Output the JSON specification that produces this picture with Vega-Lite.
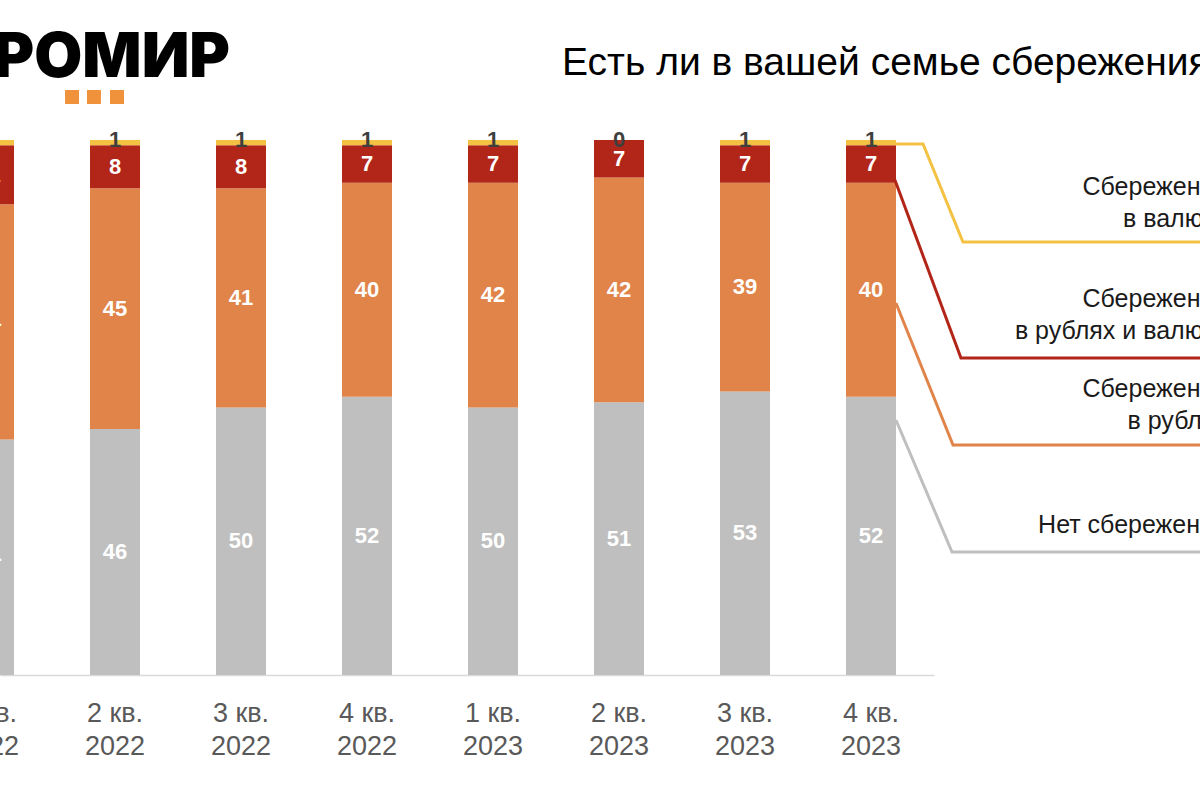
{
  "$schema": "https://vega.github.io/schema/vega-lite/v6.json",
  "width": 934,
  "height": 535,
  "autosize": {"type": "none"},
  "padding": {"left": 0, "top": 140, "right": 266, "bottom": 125},
  "background": "#ffffff",
  "config": {"view": {"stroke": null}, "font": "Liberation Sans", "scale": {"continuousPadding": 0}},
  "datasets": {
    "savings": [
      {"year": 2022, "quarter": 1, "type": "Нет сбережений", "value": 44},
      {"year": 2022, "quarter": 1, "type": "Сбережения в рублях", "value": 44},
      {"year": 2022, "quarter": 1, "type": "Сбережения в рублях и валюте", "value": 11},
      {"year": 2022, "quarter": 1, "type": "Сбережения в валюте", "value": 1},
      {"year": 2022, "quarter": 2, "type": "Нет сбережений", "value": 46},
      {"year": 2022, "quarter": 2, "type": "Сбережения в рублях", "value": 45},
      {"year": 2022, "quarter": 2, "type": "Сбережения в рублях и валюте", "value": 8},
      {"year": 2022, "quarter": 2, "type": "Сбережения в валюте", "value": 1},
      {"year": 2022, "quarter": 3, "type": "Нет сбережений", "value": 50},
      {"year": 2022, "quarter": 3, "type": "Сбережения в рублях", "value": 41},
      {"year": 2022, "quarter": 3, "type": "Сбережения в рублях и валюте", "value": 8},
      {"year": 2022, "quarter": 3, "type": "Сбережения в валюте", "value": 1},
      {"year": 2022, "quarter": 4, "type": "Нет сбережений", "value": 52},
      {"year": 2022, "quarter": 4, "type": "Сбережения в рублях", "value": 40},
      {"year": 2022, "quarter": 4, "type": "Сбережения в рублях и валюте", "value": 7},
      {"year": 2022, "quarter": 4, "type": "Сбережения в валюте", "value": 1},
      {"year": 2023, "quarter": 1, "type": "Нет сбережений", "value": 50},
      {"year": 2023, "quarter": 1, "type": "Сбережения в рублях", "value": 42},
      {"year": 2023, "quarter": 1, "type": "Сбережения в рублях и валюте", "value": 7},
      {"year": 2023, "quarter": 1, "type": "Сбережения в валюте", "value": 1},
      {"year": 2023, "quarter": 2, "type": "Нет сбережений", "value": 51},
      {"year": 2023, "quarter": 2, "type": "Сбережения в рублях", "value": 42},
      {"year": 2023, "quarter": 2, "type": "Сбережения в рублях и валюте", "value": 7},
      {"year": 2023, "quarter": 2, "type": "Сбережения в валюте", "value": 0},
      {"year": 2023, "quarter": 3, "type": "Нет сбережений", "value": 53},
      {"year": 2023, "quarter": 3, "type": "Сбережения в рублях", "value": 39},
      {"year": 2023, "quarter": 3, "type": "Сбережения в рублях и валюте", "value": 7},
      {"year": 2023, "quarter": 3, "type": "Сбережения в валюте", "value": 1},
      {"year": 2023, "quarter": 4, "type": "Нет сбережений", "value": 52},
      {"year": 2023, "quarter": 4, "type": "Сбережения в рублях", "value": 40},
      {"year": 2023, "quarter": 4, "type": "Сбережения в рублях и валюте", "value": 7},
      {"year": 2023, "quarter": 4, "type": "Сбережения в валюте", "value": 1}
    ],
    "callouts": [
      {"type": "Сбережения в валюте", "step": 1, "t": 8.198, "pct": 99.25},
      {"type": "Сбережения в валюте", "step": 2, "t": 8.413, "pct": 99.25},
      {"type": "Сбережения в валюте", "step": 3, "t": 8.73, "pct": 80.93},
      {"type": "Сбережения в валюте", "step": 4, "t": 10.9, "pct": 80.93},
      {"type": "Сбережения в рублях и валюте", "step": 1, "t": 8.19, "pct": 92.52},
      {"type": "Сбережения в рублях и валюте", "step": 2, "t": 8.714, "pct": 59.25},
      {"type": "Сбережения в рублях и валюте", "step": 3, "t": 10.9, "pct": 59.25},
      {"type": "Сбережения в рублях", "step": 1, "t": 8.198, "pct": 69.53},
      {"type": "Сбережения в рублях", "step": 2, "t": 8.651, "pct": 42.99},
      {"type": "Сбережения в рублях", "step": 3, "t": 10.9, "pct": 42.99},
      {"type": "Нет сбережений", "step": 1, "t": 8.198, "pct": 47.66},
      {"type": "Нет сбережений", "step": 2, "t": 8.643, "pct": 22.99},
      {"type": "Нет сбережений", "step": 3, "t": 10.9, "pct": 22.99}
    ],
    "calloutLabels": [
      {"label": ["Сбережения", "в валюте"], "t": 10.833, "pct": 89.72},
      {"label": ["Сбережения", "в рублях и валюте"], "t": 10.833, "pct": 68.79},
      {"label": ["Сбережения", "в рублях"], "t": 10.833, "pct": 51.96},
      {"label": ["Нет сбережений"], "t": 10.833, "pct": 26.54}
    ],
    "headings": [{"text": "Есть ли в вашей семье сбережения?", "t": 5.548, "pct": 112.15}],
    "logo": [{"brand": "РОМИР", "t": 2.913, "pct": 111.78}],
    "logoDots": [
      {"t": 1.659, "pct": 108.04},
      {"t": 1.833, "pct": 108.04},
      {"t": 2.016, "pct": 108.04}
    ]
  },
  "layer": [
    {
      "data": {"name": "savings"},
      "transform": [
        {"calculate": "(datum.year - 2022) * 4 + datum.quarter", "as": "t"},
        {"calculate": "indexof(['Нет сбережений', 'Сбережения в рублях', 'Сбережения в рублях и валюте', 'Сбережения в валюте'], datum.type)", "as": "rank"}
      ],
      "mark": {"type": "bar", "width": 50},
      "encoding": {
        "x": {
          "field": "t",
          "type": "quantitative",
          "scale": {"domain": [1.0873, 8.5], "nice": false, "zero": false, "padding": 0},
          "axis": {"title": null, "labels": false, "ticks": false, "grid": false, "domainColor": "#d9d9d9", "domainWidth": 1.5}
        },
        "y": {
          "field": "value",
          "type": "quantitative",
          "stack": "zero",
          "scale": {"domain": [0, 100], "nice": false, "zero": false, "padding": 0},
          "axis": null
        },
        "color": {
          "field": "type",
          "type": "nominal",
          "scale": {
            "domain": ["Нет сбережений", "Сбережения в рублях", "Сбережения в рублях и валюте", "Сбережения в валюте"],
            "range": ["#bfbfbf", "#e0844a", "#b22519", "#f4c242"]
          },
          "legend": null
        },
        "order": {"field": "rank"}
      }
    },
    {
      "data": {"name": "savings"},
      "transform": [
        {"calculate": "(datum.year - 2022) * 4 + datum.quarter", "as": "t"},
        {"calculate": "indexof(['Нет сбережений', 'Сбережения в рублях', 'Сбережения в рублях и валюте', 'Сбережения в валюте'], datum.type)", "as": "rank"},
        {"stack": "value", "groupby": ["t"], "sort": [{"field": "rank", "order": "ascending"}], "as": ["v0", "v1"]},
        {"calculate": "datum.type === 'Сбережения в валюте' ? datum.v1 : (datum.v0 + datum.v1) / 2", "as": "ypos"}
      ],
      "mark": {"type": "text", "fontSize": 22, "fontWeight": "bold", "baseline": "middle", "align": "center", "font": "Liberation Sans"},
      "encoding": {
        "x": {"field": "t", "type": "quantitative", "scale": {"domain": [1.0873, 8.5], "nice": false, "zero": false, "padding": 0}},
        "y": {"field": "ypos", "type": "quantitative", "scale": {"domain": [0, 100], "nice": false, "zero": false, "padding": 0}},
        "text": {"field": "value", "type": "quantitative"},
        "color": {
          "condition": {"test": "datum.type === 'Сбережения в валюте'", "value": "#3f3f3f"},
          "value": "#ffffff"
        }
      }
    },
    {
      "data": {"name": "savings"},
      "transform": [
        {"filter": "datum.type === 'Нет сбережений'"},
        {"calculate": "(datum.year - 2022) * 4 + datum.quarter", "as": "t"},
        {"calculate": "[datum.quarter + ' кв.', '' + datum.year]", "as": "period"}
      ],
      "mark": {"type": "text", "fontSize": 27, "baseline": "alphabetic", "align": "center", "dy": 47, "lineHeight": 33, "color": "#595959", "font": "Liberation Sans"},
      "encoding": {
        "x": {"field": "t", "type": "quantitative", "scale": {"domain": [1.0873, 8.5], "nice": false, "zero": false, "padding": 0}},
        "y": {"datum": 0, "type": "quantitative", "scale": {"domain": [0, 100], "nice": false, "zero": false, "padding": 0}},
        "text": {"field": "period"}
      }
    },
    {
      "data": {"name": "callouts"},
      "mark": {"type": "line", "strokeWidth": 3, "strokeJoin": "miter"},
      "encoding": {
        "x": {"field": "t", "type": "quantitative", "scale": {"domain": [1.0873, 8.5], "nice": false, "zero": false, "padding": 0}},
        "y": {"field": "pct", "type": "quantitative", "scale": {"domain": [0, 100], "nice": false, "zero": false, "padding": 0}},
        "color": {"field": "type", "type": "nominal", "legend": null},
        "order": {"field": "step"}
      }
    },
    {
      "data": {"name": "calloutLabels"},
      "mark": {"type": "text", "fontSize": 25, "align": "right", "baseline": "alphabetic", "lineHeight": 32, "color": "#1a1a1a", "font": "Liberation Sans"},
      "encoding": {
        "x": {"field": "t", "type": "quantitative", "scale": {"domain": [1.0873, 8.5], "nice": false, "zero": false, "padding": 0}},
        "y": {"field": "pct", "type": "quantitative", "scale": {"domain": [0, 100], "nice": false, "zero": false, "padding": 0}},
        "text": {"field": "label"}
      }
    },
    {
      "data": {"name": "headings"},
      "mark": {"type": "text", "fontSize": 39, "align": "left", "baseline": "alphabetic", "color": "#000000", "font": "Liberation Sans"},
      "encoding": {
        "x": {"field": "t", "type": "quantitative", "scale": {"domain": [1.0873, 8.5], "nice": false, "zero": false, "padding": 0}},
        "y": {"field": "pct", "type": "quantitative", "scale": {"domain": [0, 100], "nice": false, "zero": false, "padding": 0}},
        "text": {"field": "text"}
      }
    },
    {
      "data": {"name": "logo"},
      "mark": {"type": "text", "fontSize": 62, "fontWeight": 900, "font": "Inter", "align": "right", "baseline": "alphabetic", "color": "#000000"},
      "encoding": {
        "x": {"field": "t", "type": "quantitative", "scale": {"domain": [1.0873, 8.5], "nice": false, "zero": false, "padding": 0}},
        "y": {"field": "pct", "type": "quantitative", "scale": {"domain": [0, 100], "nice": false, "zero": false, "padding": 0}},
        "text": {"field": "brand"}
      }
    },
    {
      "data": {"name": "logoDots"},
      "mark": {"type": "point", "shape": "square", "filled": true, "size": 196, "color": "#f0923c", "opacity": 1},
      "encoding": {
        "x": {"field": "t", "type": "quantitative", "scale": {"domain": [1.0873, 8.5], "nice": false, "zero": false, "padding": 0}},
        "y": {"field": "pct", "type": "quantitative", "scale": {"domain": [0, 100], "nice": false, "zero": false, "padding": 0}}
      }
    }
  ]
}
